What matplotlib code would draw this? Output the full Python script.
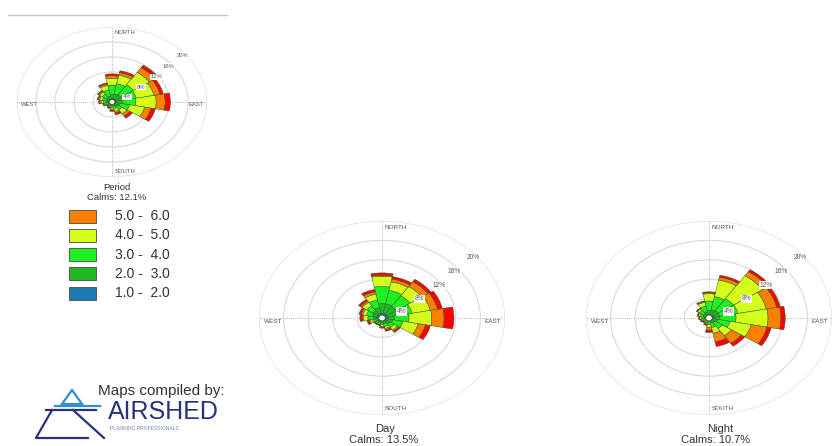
import numpy as np
import matplotlib
matplotlib.use('Agg')
import matplotlib.pyplot as plt
from matplotlib.patches import Rectangle, Polygon

plt.rcParams['font.family'] = ['Liberation Sans', 'DejaVu Sans']

# 16 compass sectors, clockwise from north
directions = ['N', 'NNE', 'NE', 'ENE', 'E', 'ESE', 'SE', 'SSE',
              'S', 'SSW', 'SW', 'WSW', 'W', 'WNW', 'NW', 'NNW']

# speed classes (m/s); the last class is not listed in the legend
class_labels = ['1.0 -  2.0', '2.0 -  3.0', '3.0 -  4.0', '4.0 -  5.0', '5.0 -  6.0', '>= 6.0']
class_colors = ['#1a78b4', '#22b822', '#20f020', '#d4ff1a', '#ff8000', '#ff0000']

# frequency (%) per sector, columns = speed classes
period_freq = [
    [0.8, 1.2, 2.5, 1.8, 0.7, 0.5],   # N
    [0.9, 1.3, 2.8, 2.3, 0.7, 0.5],   # NNE
    [0.9, 1.4, 3.2, 4.0, 1.5, 0.8],   # NE
    [0.9, 1.3, 3.0, 3.8, 1.3, 0.7],   # ENE
    [0.9, 1.3, 2.8, 4.3, 1.9, 1.1],   # E
    [0.8, 1.0, 2.0, 3.2, 1.4, 0.9],   # ESE
    [0.7, 0.7, 1.1, 1.3, 0.7, 0.7],   # SE
    [0.6, 0.5, 0.7, 0.8, 0.4, 0.5],   # SSE
    [0.5, 0.4, 0.5, 0.5, 0.3, 0.3],   # S
    [0.5, 0.3, 0.3, 0.3, 0.2, 0.2],   # SSW
    [0.5, 0.2, 0.3, 0.2, 0.2, 0.1],   # SW
    [0.5, 0.4, 0.4, 0.3, 0.2, 0.2],   # WSW
    [0.6, 0.5, 0.7, 0.5, 0.3, 0.2],   # W
    [0.6, 0.6, 0.9, 0.6, 0.3, 0.2],   # WNW
    [0.7, 0.7, 1.1, 0.7, 0.3, 0.2],   # NW
    [0.7, 0.9, 1.7, 1.2, 0.4, 0.3],   # NNW
]

day_freq = [
    [1.0, 2.0, 3.5, 2.1, 0.2, 0.5],
    [1.0, 2.0, 2.8, 1.8, 0.6, 0.5],
    [1.0, 1.8, 2.7, 2.3, 1.2, 0.6],
    [1.0, 1.5, 2.5, 3.0, 1.2, 0.8],
    [1.0, 1.0, 2.4, 3.7, 2.0, 1.6],
    [0.9, 0.9, 1.7, 2.5, 1.2, 0.8],
    [0.8, 0.7, 0.9, 0.6, 0.3, 0.3],
    [0.7, 0.5, 0.6, 0.4, 0.3, 0.3],
    [0.6, 0.4, 0.4, 0.3, 0.2, 0.2],
    [0.6, 0.3, 0.3, 0.2, 0.1, 0.1],
    [0.6, 0.3, 0.3, 0.2, 0.1, 0.1],
    [0.7, 0.4, 0.5, 0.4, 0.2, 0.3],
    [0.8, 0.6, 0.9, 0.7, 0.2, 0.4],
    [0.9, 0.7, 1.0, 0.6, 0.3, 0.3],
    [0.9, 0.9, 1.2, 0.9, 0.3, 0.4],
    [1.0, 1.2, 1.6, 1.2, 0.5, 0.5],
]

night_freq = [
    [0.7, 0.8, 2.0, 1.5, 0.2, 0.2],
    [0.8, 0.9, 2.8, 3.5, 0.6, 0.4],
    [0.8, 1.0, 3.0, 5.7, 1.0, 0.5],
    [0.8, 1.0, 3.0, 4.7, 1.7, 0.6],
    [0.8, 0.9, 2.7, 5.2, 2.1, 0.7],
    [0.7, 0.8, 2.0, 3.5, 2.6, 0.7],
    [0.6, 0.6, 1.4, 1.8, 1.9, 0.7],
    [0.6, 0.4, 1.0, 1.2, 1.8, 1.0],
    [0.5, 0.3, 0.5, 0.6, 0.6, 0.5],
    [0.5, 0.2, 0.3, 0.2, 0.2, 0.2],
    [0.5, 0.2, 0.2, 0.2, 0.1, 0.1],
    [0.5, 0.2, 0.3, 0.2, 0.1, 0.2],
    [0.5, 0.3, 0.4, 0.3, 0.1, 0.1],
    [0.6, 0.4, 0.5, 0.3, 0.1, 0.1],
    [0.6, 0.5, 0.8, 0.4, 0.1, 0.1],
    [0.7, 0.6, 1.2, 0.8, 0.2, 0.1],
]

ring_values = [4, 8, 12, 16, 20]
# where each ring label sits: (bearing in degrees, radius in %)
ring_label_pos = [(67, 3.5), (57, 7.2), (54, 11.5), (51, 15.2), (50, 19.3)]

W, H = 833, 446
fig = plt.figure(figsize=(W / 100, H / 100), dpi=100)

# pixel-space layer for legend, logo and captions
bg = fig.add_axes([0, 0, 1, 1])
bg.set_xlim(0, W)
bg.set_ylim(H, 0)
bg.axis('off')


def px_axes(x0, y0, x1, y1):
    return [x0 / W, 1 - y1 / H, (x1 - x0) / W, (y1 - y0) / H]


def wind_rose(rect, freq, label_size, ring_size):
    ax = fig.add_axes(rect, projection='polar')
    ax.set_aspect('auto')
    ax.set_facecolor('none')
    ax.set_theta_zero_location('N')
    ax.set_theta_direction(-1)

    freq = np.array(freq)
    theta = np.deg2rad(np.arange(16) * 22.5)
    width = 2 * np.pi / 16
    bottom = np.zeros(16)
    for k in range(freq.shape[1]):
        ax.bar(theta, freq[:, k], width=width, bottom=bottom,
               color=class_colors[k], edgecolor='#2d5a2d', linewidth=0.35, zorder=2)
        bottom += freq[:, k]

    # calm circle at the centre
    t = np.linspace(0, 2 * np.pi, 100)
    ax.fill(t, np.full(100, 0.35), color='white', zorder=3)

    ax.set_ylim(0, 20)
    ax.set_yticks(ring_values)
    ax.set_yticklabels([])
    ax.set_xticks(np.deg2rad([0, 90, 180, 270]))
    ax.set_xticklabels([])
    ax.yaxis.grid(True, color='#d8d8d8', linewidth=0.8, linestyle='-')
    ax.xaxis.grid(True, color='#9a9a9a', linewidth=0.6, linestyle=':')
    ax.set_axisbelow(True)
    ax.spines['polar'].set_visible(False)

    for val, (brg, r) in zip(ring_values, ring_label_pos):
        ax.text(np.deg2rad(brg), r, f'{val}%', fontsize=ring_size, color='#555555',
                ha='center', va='center', zorder=4,
                bbox=dict(boxstyle='square,pad=0.1', fc='white', ec='none'))

    kw = dict(transform=ax.transAxes, fontsize=label_size, color='#555555', va='center')
    ax.text(0.512, 0.966, 'NORTH', ha='left', **kw)
    ax.text(0.512, 0.036, 'SOUTH', ha='left', **kw)
    ax.text(0.02, 0.48, 'WEST', ha='left', **kw)
    ax.text(0.985, 0.48, 'EAST', ha='right', **kw)
    return ax


wind_rose(px_axes(17, 27, 207, 177), period_freq, 4.2, 4.2)
wind_rose(px_axes(259, 221, 505, 415), day_freq, 4.6, 4.8)
wind_rose(px_axes(586, 221, 832, 415), night_freq, 4.6, 4.8)

# captions
bg.text(117, 187, 'Period', fontsize=6.8, color='#333333', ha='center', va='center')
bg.text(117, 197, 'Calms: 12.1%', fontsize=6.8, color='#333333', ha='center', va='center')
bg.text(385, 429, 'Day', fontsize=8, color='#333333', ha='center', va='center')
bg.text(384, 440, 'Calms: 13.5%', fontsize=8, color='#333333', ha='center', va='center')
bg.text(720, 429, 'Night', fontsize=8, color='#333333', ha='center', va='center')
bg.text(716, 440, 'Calms: 10.7%', fontsize=8, color='#333333', ha='center', va='center')

# thin rule above the first rose
bg.plot([8, 227], [15, 15], color='#c8c8c8', linewidth=1)

# legend, highest class first
for i, k in enumerate(range(4, -1, -1)):
    yc = 216 + 19.3 * i
    bg.add_patch(Rectangle((69, yc - 6.5), 27, 13, facecolor=class_colors[k],
                           edgecolor='#4a4a4a', linewidth=0.6))
    bg.text(115, yc, class_labels[k], fontsize=10,
            color='#333333', ha='left', va='center')

# logo
navy = '#26337a'
light = '#2f8fd0'
bg.add_patch(Polygon([(62, 404), (72, 390), (82, 404)], closed=True,
                     fill=False, edgecolor=light, linewidth=1.6))
bg.plot([55, 100], [406, 406], color=light, linewidth=1.6)
bg.plot([46, 96], [410, 410], color=navy, linewidth=1.6)
bg.plot([52, 36, 88], [410, 438, 438], color=navy, linewidth=1.6)
bg.plot([73, 104], [410, 438], color=navy, linewidth=1.6)
bg.text(98, 391, 'Maps compiled by:', fontsize=11, color='#333333', ha='left', va='center')
bg.text(108, 412, 'AIRSHED', fontsize=18, color=navy, ha='left', va='center')
bg.text(110, 428, 'PLANNING PROFESSIONALS', fontsize=3.6, color='#7a84a8',
        ha='left', va='center')

fig.savefig('out.png', dpi=100, facecolor='white')
